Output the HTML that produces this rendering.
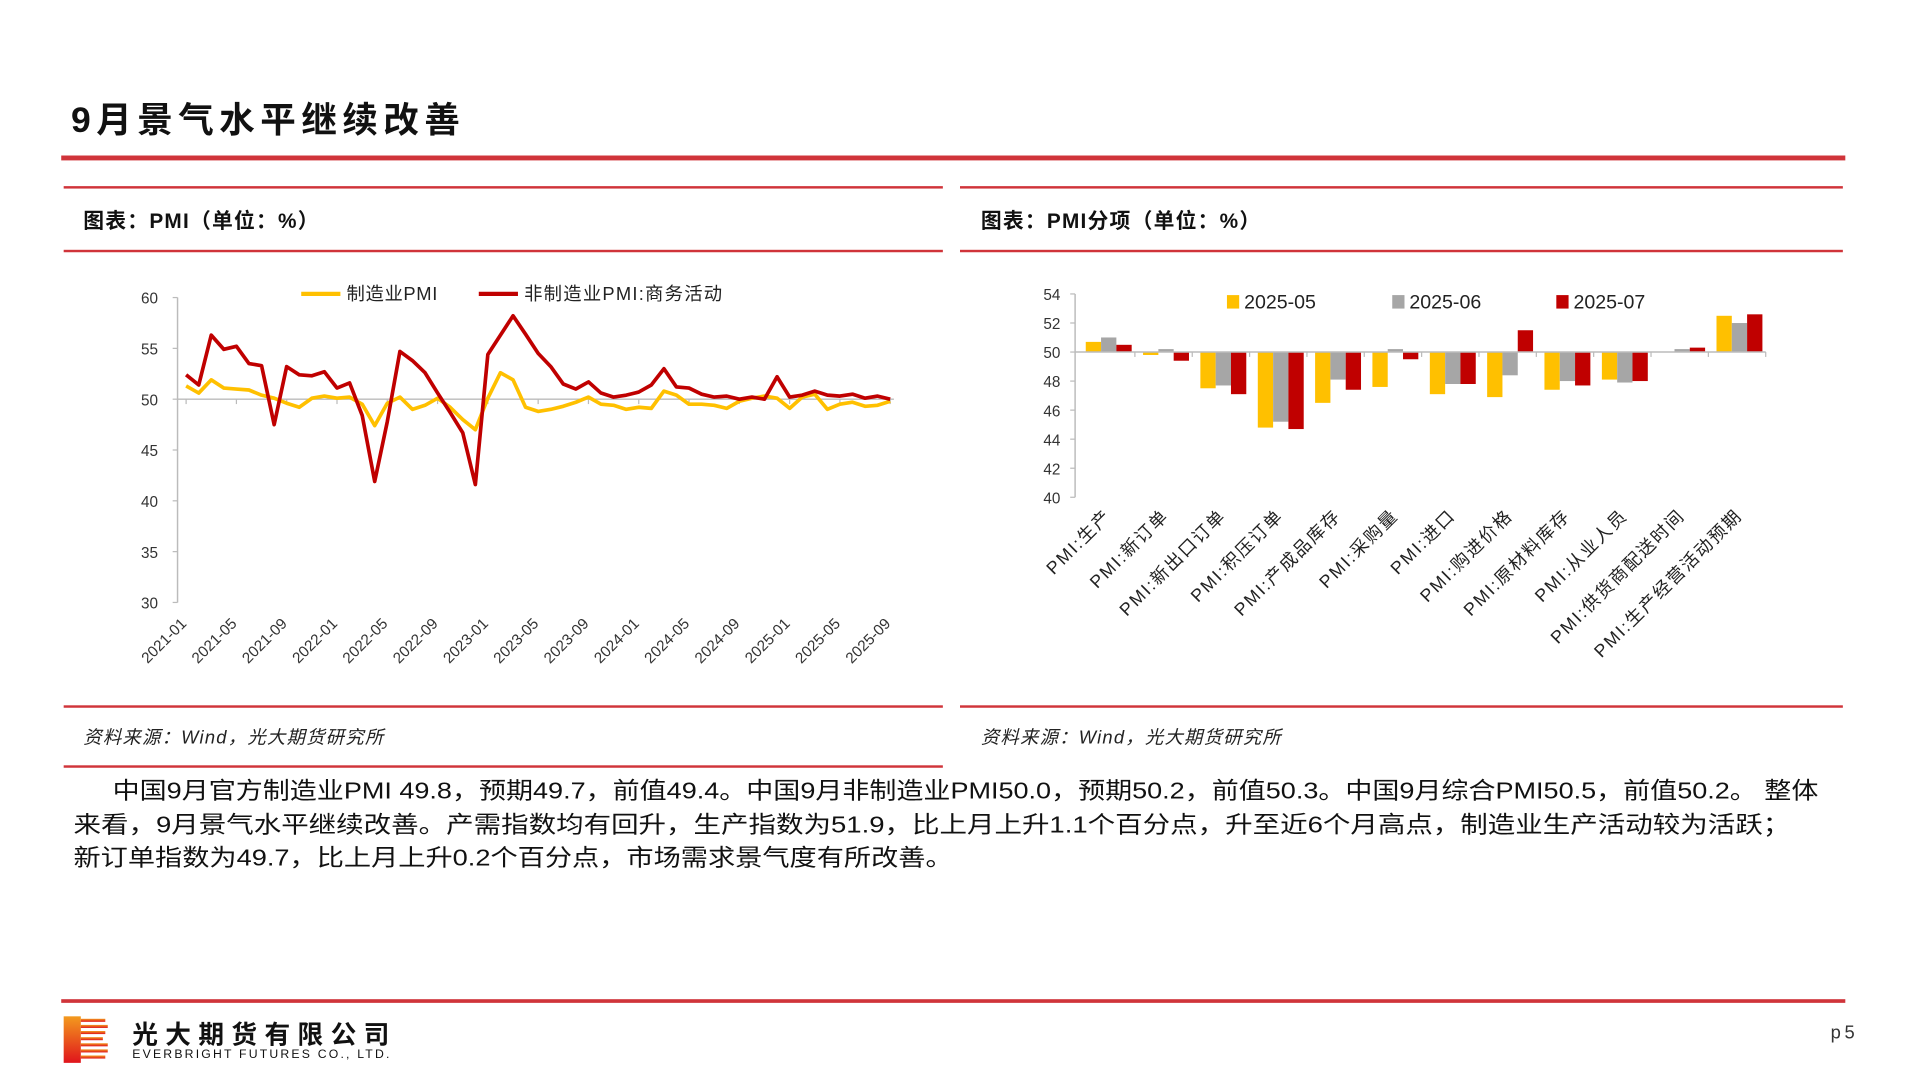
<!DOCTYPE html>
<html><head><meta charset="utf-8"><style>
html,body{margin:0;padding:0;background:#fff;width:1920px;height:1080px;overflow:hidden}
svg{display:block}
text{font-family:"Liberation Sans","Noto Sans CJK SC",sans-serif}
</style></head><body>
<svg id="page" width="1920" height="1080" viewBox="0 0 1568 882" xmlns="http://www.w3.org/2000/svg">
<text x="58" y="108" font-size="29" font-weight="bold" fill="#111" letter-spacing="4.5">9月景气水平继续改善</text>
<rect x="50" y="127" width="1457" height="4" fill="#d0343a"/>
<g>
<rect x="52" y="152" width="718" height="2" fill="#d0343a"/>
<rect x="52" y="204" width="718" height="2" fill="#d0343a"/>
<rect x="52" y="576" width="718" height="2" fill="#d0343a"/>
<rect x="52" y="625" width="718" height="2" fill="#d0343a"/>
<text x="68" y="186" font-size="17" font-weight="bold" fill="#111" letter-spacing="1">图表：PMI（单位：%）</text>
<text x="68" y="607" font-size="15" font-style="italic" fill="#222" letter-spacing="1">资料来源：Wind，光大期货研究所</text>
</g>
<g>
<rect x="784" y="152" width="721" height="2" fill="#d0343a"/>
<rect x="784" y="204" width="721" height="2" fill="#d0343a"/>
<rect x="784" y="576" width="721" height="2" fill="#d0343a"/>
<text x="801" y="186" font-size="17" font-weight="bold" fill="#111" letter-spacing="1">图表：PMI分项（单位：%）</text>
<text x="801" y="607" font-size="15" font-style="italic" fill="#222" letter-spacing="1">资料来源：Wind，光大期货研究所</text>
</g>
<g id="lc"></g>
<g id="bc"></g>
<g font-size="19" fill="#111">
<text x="92" y="652" textLength="1393" lengthAdjust="spacingAndGlyphs">中国9月官方制造业PMI 49.8，预期49.7，前值49.4。中国9月非制造业PMI50.0，预期50.2，前值50.3。中国9月综合PMI50.5，前值50.2。 整体</text>
<text x="60" y="680" textLength="1402" lengthAdjust="spacingAndGlyphs">来看，9月景气水平继续改善。产需指数均有回升，生产指数为51.9，比上月上升1.1个百分点，升至近6个月高点，制造业生产活动较为活跃；</text>
<text x="60" y="707" textLength="718" lengthAdjust="spacingAndGlyphs">新订单指数为49.7，比上月上升0.2个百分点，市场需求景气度有所改善。</text>
</g>
<rect x="50" y="816" width="1457" height="3" fill="#d0343a"/>
<g>
<defs><linearGradient id="lg" x1="0" y1="0" x2="0" y2="1"><stop offset="0" stop-color="#f39a1e"/><stop offset="1" stop-color="#e0141c"/></linearGradient></defs>
<rect x="52" y="830" width="14" height="38" fill="url(#lg)"/>
<g fill="url(#lg)"><rect x="66" y="832" width="20" height="2.5"/><rect x="66" y="837" width="22" height="2.5"/><rect x="66" y="842" width="20" height="2.5"/><rect x="66" y="847" width="18" height="2.5"/><rect x="66" y="852" width="22" height="2.5"/><rect x="66" y="857" width="22" height="2.5"/><rect x="66" y="862" width="20" height="2.5"/></g>
<text x="108" y="852" font-size="21" font-weight="bold" fill="#111" textLength="210" lengthAdjust="spacing">光大期货有限公司</text>
<text x="108" y="864" font-size="10" fill="#111" textLength="210" lengthAdjust="spacing">EVERBRIGHT FUTURES CO., LTD.</text>
</g>
<text x="1495" y="848" font-size="15" fill="#333" letter-spacing="3">p5</text>
</svg>
<script>
const NS='http://www.w3.org/2000/svg';
const months=[];for(let y=2021;y<=2025;y++)for(let m=1;m<=12;m++){if(y===2025&&m>9)break;months.push(y+'-'+String(m).padStart(2,'0'));}
const mfgPMI=[51.3,50.6,51.9,51.1,51.0,50.9,50.4,50.1,49.6,49.2,50.1,50.3,50.1,50.2,49.5,47.4,49.6,50.2,49.0,49.4,50.1,49.2,48.0,47.0,50.1,52.6,51.9,49.2,48.8,49.0,49.3,49.7,50.2,49.5,49.4,49.0,49.2,49.1,50.8,50.4,49.5,49.5,49.4,49.1,49.8,50.1,50.3,50.1,49.1,50.2,50.5,49.0,49.5,49.7,49.3,49.4,49.8];
const nonMfgPMI=[52.4,51.4,56.3,54.9,55.2,53.5,53.3,47.5,53.2,52.4,52.3,52.7,51.1,51.6,48.4,41.9,47.8,54.7,53.8,52.6,50.6,48.7,46.7,41.6,54.4,56.3,58.2,56.4,54.5,53.2,51.5,51.0,51.7,50.6,50.2,50.4,50.7,51.4,53.0,51.2,51.1,50.5,50.2,50.3,50.0,50.2,50.0,52.2,50.2,50.4,50.8,50.4,50.3,50.5,50.1,50.3,50.0];
const lineTicks=[30,35,40,45,50,55,60];
const categories=['PMI:生产','PMI:新订单','PMI:新出口订单','PMI:积压订单','PMI:产成品库存','PMI:采购量','PMI:进口','PMI:购进价格','PMI:原材料库存','PMI:从业人员','PMI:供货商配送时间','PMI:生产经营活动预期'];
const seriesNames=['2025-05','2025-06','2025-07'];
const s202505=[50.7,49.8,47.5,44.8,46.5,47.6,47.1,46.9,47.4,48.1,50.0,52.5];
const s202506=[51.0,50.2,47.7,45.2,48.1,50.2,47.8,48.4,48.0,47.9,50.2,52.0];
const s202507=[50.5,49.4,47.1,44.7,47.4,49.5,47.8,51.5,47.7,48.0,50.3,52.6];
const barTicks=[40,42,44,46,48,50,52,54];

function el(p,t,a,txt){const e=document.createElementNS(NS,t);for(const k in a)e.setAttribute(k,a[k]);if(txt!=null)e.textContent=txt;p.appendChild(e);return e;}

// line chart
const lc=document.getElementById('lc');
const ly=v=>326-(v-50)*8.3;
const lx=i=>152+i*(727-152)/(months.length-1);
el(lc,'line',{x1:145,y1:ly(60),x2:145,y2:ly(30),stroke:'#bbb','stroke-width':1.2});
lineTicks.forEach(t=>{
  const g=el(lc,'text',{x:129,y:ly(t)+5,'font-size':12.5,'text-anchor':'end',fill:'#333'},t);
  
  
  el(lc,'line',{x1:141,y1:ly(t),x2:145,y2:ly(t),stroke:'#bbb'});
});
const ax=el(lc,'line',{x1:145,y1:ly(50),x2:730,y2:ly(50),stroke:'#bbb','stroke-width':1.2});


months.forEach((m,i)=>{
  if(i%4!==0)return;
  el(lc,'line',{x1:lx(i),y1:ly(50),x2:lx(i),y2:ly(50)+4,stroke:'#bbb'});
  const t=el(lc,'text',{x:lx(i)+1,y:510,'font-size':12.5,'text-anchor':'end',fill:'#333',transform:`rotate(-45 ${lx(i)+1} 510)`},m);
  
  
});
function line(vals,col,name){
  const p=el(lc,'polyline',{points:vals.map((v,i)=>lx(i).toFixed(1)+','+ly(v).toFixed(1)).join(' '),fill:'none',stroke:col,'stroke-width':3,'stroke-linejoin':'round'});
  
  
}
line(mfgPMI,'#ffc000','manufacturing-pmi-line');
line(nonMfgPMI,'#c00000','non-manufacturing-pmi-line');
let lg=el(lc,'g',{});


el(lg,'line',{x1:246,y1:240,x2:278,y2:240,stroke:'#ffc000','stroke-width':3.5});
el(lg,'text',{x:283,y:245,'font-size':15,fill:'#222','letter-spacing':0.5},'制造业PMI');
lg=el(lc,'g',{});


el(lg,'line',{x1:391,y1:240,x2:423,y2:240,stroke:'#c00000','stroke-width':3.5});
el(lg,'text',{x:428,y:245,'font-size':15,fill:'#222','letter-spacing':1},'非制造业PMI:商务活动');

// bar chart
const bc=document.getElementById('bc');
const by=v=>287.5-(v-50)*11.86;
const x0=880, x1=1442;
const gw=(x1-x0)/categories.length;
const gx=i=>x0+gw*(i+0.5)+2;
el(bc,'line',{x1:878,y1:by(54),x2:878,y2:by(40),stroke:'#bbb','stroke-width':1.2});
barTicks.forEach(t=>{
  const g=el(bc,'text',{x:866,y:by(t)+5,'font-size':12.5,'text-anchor':'end',fill:'#333'},t);
  
  
  el(bc,'line',{x1:874,y1:by(t),x2:878,y2:by(t),stroke:'#bbb'});
});
const cols=['#ffc000','#a6a6a6','#c00000'];
[s202505,s202506,s202507].forEach((s,k)=>{
  s.forEach((v,i)=>{
    const x=gx(i)+(k-1.5)*12.5;
    const r=el(bc,'rect',{x:x.toFixed(1),y:Math.min(by(v),by(50)).toFixed(1),width:12.5,height:Math.abs(by(v)-by(50)).toFixed(1),fill:cols[k]});
    
    
  });
});
el(bc,'line',{x1:878,y1:by(50),x2:1442,y2:by(50),stroke:'#bbb','stroke-width':1.2});
categories.forEach((c,i)=>{
  el(bc,'line',{x1:x0+gw*(i+1),y1:by(50),x2:x0+gw*(i+1),y2:by(50)+4,stroke:'#bbb'});
  const t=el(bc,'text',{x:gx(i)+3,y:422,'font-size':14.5,'text-anchor':'end',fill:'#222','letter-spacing':1.5,transform:`rotate(-45 ${gx(i)+3} 422)`},c);
  
  
});
const lgx=[1002,1137,1271];
seriesNames.forEach((n,k)=>{
  const g=el(bc,'g',{});
  
  
  el(g,'rect',{x:lgx[k],y:241,width:10,height:11,fill:cols[k]});
  el(g,'text',{x:lgx[k]+14,y:252,'font-size':16,fill:'#222'},n);
});
</script>
</body></html>
